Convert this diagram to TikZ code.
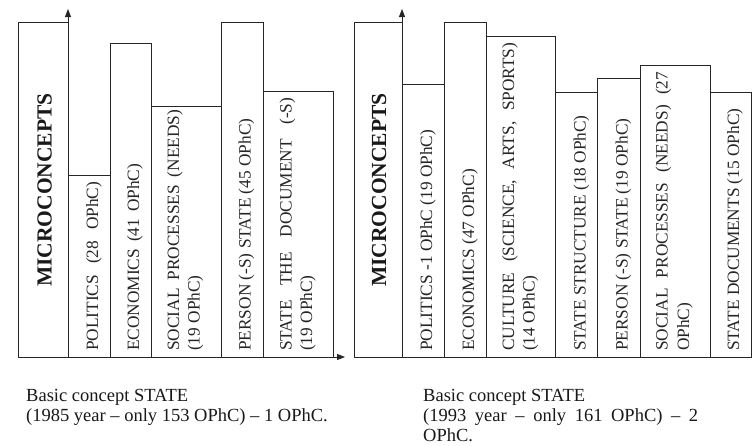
\documentclass[tikz,border=0pt]{standalone}
\usepackage{fontspec}
\setmainfont{Liberation Serif}
\usetikzlibrary{arrows.meta}
\begin{document}
\begin{tikzpicture}[x=1pt,y=-1pt,
  bar/.style={draw=black!85, line width=0.9pt},
  axisline/.style={draw=black!85, line width=0.9pt, -{Triangle[length=8pt,width=6pt]}},
  lbl/.style={rotate=90, anchor=base west, inner sep=0pt, text=black!85, font=\fontsize{17.3}{20.5}\selectfont},
  mc/.style={rotate=90, anchor=base, inner sep=0pt, text=black!90, font=\fontsize{21.5}{24}\selectfont\bfseries},
  capt/.style={anchor=base west, inner sep=0pt, text=black!90, font=\fontsize{18.5}{20}\selectfont}]
\useasboundingbox (0,0) rectangle (752,445);
\fill[white] (0,0) rectangle (752,445);

% ---------- left chart ----------
\coordinate (L0) at (68,357);
\coordinate (Lbox) at (18,357);
\coordinate (Ltop) at (68,9);
\coordinate (Lend) at (345,357);
\draw[bar] (18,357) rectangle (68,22);
\draw[bar] (68,357) rectangle (110,175);
\draw[bar] (110,357) rectangle (151,43);
\draw[bar] (151,357) rectangle (221,106);
\draw[bar] (221,357) rectangle (263,22);
\draw[bar] (263,357) rectangle (333,91);
\draw[axisline] (L0) -- (Ltop);
\draw[axisline] (Lbox) -- (Lend);

\node[mc] (lmc) at (51.5,190) {MICROCONCEPTS};
\node[lbl] (l1) at (98,351) {\makebox[169pt][s]{POLITICS (28 OPhC)}};
\node[lbl] (l2) at (139,351) {\makebox[187pt][s]{ECONOMICS (41 OPhC)}};
\node[lbl] (l3a) at (179,351) {\makebox[241pt][s]{SOCIAL PROCESSES (NEEDS)}};
\node[lbl] (l3b) at (199.5,351) {(19 OPhC)};
\node[lbl] (l4) at (250.5,351) {PERSON (-S) STATE (45 OPhC)};
\node[lbl] (l5a) at (291.5,351) {\makebox[253pt][s]{STATE THE DOCUMENT (-S)}};
\node[lbl] (l5b) at (312,351) {(19 OPhC)};

% ---------- right chart ----------
\coordinate (R0) at (402,357);
\coordinate (Rbox) at (354,357);
\coordinate (Rtop) at (402,9);
\coordinate (Rend) at (752,357);
\draw[bar] (354,357) rectangle (402,22);
\draw[bar] (402,357) rectangle (444,84);
\draw[bar] (444,357) rectangle (486,22);
\draw[bar] (486,357) rectangle (555,36);
\draw[bar] (555,357) rectangle (597,92);
\draw[bar] (597,357) rectangle (640,78);
\draw[bar] (640,357) rectangle (710,65);
\draw[bar] (710,357) rectangle (751,92);
\draw[axisline] (R0) -- (Rtop);
\draw[bar] (Rbox) -- (Rend);

\node[mc] (rmc) at (386,190) {MICROCONCEPTS};
\node[lbl] (r1) at (432,351) {POLITICS -1 OPhC (19 OPhC)};
\node[lbl] (r2) at (474,351) {ECONOMICS (47 OPhC)};
\node[lbl] (r3a) at (514,351) {\makebox[308pt][s]{CULTURE (SCIENCE, ARTS, SPORTS)}};
\node[lbl] (r3b) at (534.5,351) {(14 OPhC)};
\node[lbl] (r4) at (585.5,351) {STATE STRUCTURE (18 OPhC)};
\node[lbl] (r5) at (627.5,351) {PERSON (-S) STATE (19 OPhC)};
\node[lbl] (r6a) at (667.5,351) {\makebox[279pt][s]{SOCIAL PROCESSES (NEEDS) (27}};
\node[lbl] (r6b) at (689,351) {OPhC)};
\node[lbl] (r7) at (739,351) {STATE DOCUMENTS (15 OPhC)};

% ---------- captions ----------
\node[capt] (c1a) at (26,401) {Basic concept STATE};
\node[capt] (c1b) at (26,421) {(1985 year -- only 153 OPhC) -- 1 OPhC.};
\node[capt] (c2a) at (423,401) {Basic concept STATE};
\node[capt] (c2b) at (423,421) {\makebox[275pt][s]{(1993 year -- only 161 OPhC) -- 2}};
\node[capt] (c2c) at (423,441) {OPhC.};
\end{tikzpicture}
\end{document}
